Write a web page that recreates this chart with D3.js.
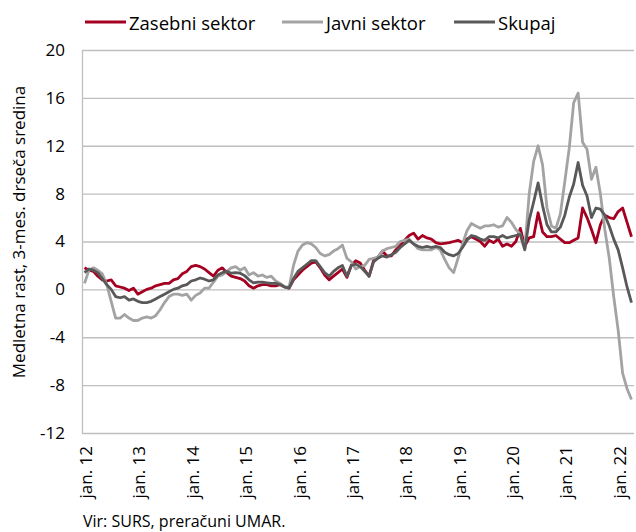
<!DOCTYPE html>
<html>
<head>
<meta charset="utf-8">
<script src="https://cdn.jsdelivr.net/npm/d3@7"></script>
<style>
  body { margin: 0; background: #fff; }
  text { font-family: "Open Sans", "Noto Sans", sans-serif; fill: #000; }
</style>
</head>
<body>
<div id="chart"></div>
<script>
// monthly categories jan 2012 .. apr 2022
const months = d3.timeMonth.range(new Date(2012, 0, 1), new Date(2022, 4, 1));

const seriesNames = ["Zasebni sektor", "Javni sektor", "Skupaj"];

const zasebni = [
  1.8, 1.6, 1.5, 1.1, 0.8, 0.7, 0.8, 0.3, 0.2, 0.1, -0.1, 0.1,
  -0.4, -0.2, 0.0, 0.1, 0.3, 0.4, 0.5, 0.5, 0.8, 0.9, 1.3, 1.5,
  1.9, 2.0, 1.9, 1.7, 1.4, 1.1, 1.6, 1.8, 1.4, 1.1, 1.0, 0.9,
  0.7, 0.3, 0.1, 0.3, 0.4, 0.4, 0.3, 0.3, 0.4, 0.2, 0.1, 0.8,
  1.2, 1.6, 1.9, 2.2, 2.3, 1.8, 1.2, 0.8, 1.1, 1.4, 1.7, 1.0,
  2.0, 2.4, 2.2, 1.6, 1.1, 2.4, 2.7, 3.2, 2.8, 2.8, 3.3, 3.7,
  4.1, 4.5, 4.7, 4.2, 4.5, 4.3, 4.2, 3.9, 3.8, 3.85, 3.9, 4.0,
  4.1, 3.9, 4.2, 4.4, 4.2, 4.0, 3.6, 4.1, 3.9, 4.2, 3.6, 3.8,
  3.6, 4.0, 5.1, 3.6, 4.3, 4.4, 6.4, 4.8, 4.4, 4.4, 4.5, 4.2,
  3.9, 3.9, 4.1, 4.3, 6.8, 6.0, 5.0, 3.9, 5.4, 6.2, 6.0, 5.9,
  6.5, 6.8, 5.6, 4.4
];

const javni = [
  0.5, 1.6, 1.8, 1.6, 1.3, 0.4, -1.0, -2.4, -2.4, -2.1, -2.4, -2.6,
  -2.6, -2.4, -2.3, -2.4, -2.2, -1.7, -1.1, -0.6, -0.4, -0.4, -0.5, -0.4,
  -0.9, -0.5, -0.3, 0.1, 0.1, 0.6, 1.1, 1.2, 1.5, 1.8, 1.9, 1.6,
  1.8, 1.2, 1.4, 1.1, 1.2, 1.0, 1.1, 0.7, 0.5, 0.2, 0.2, 2.0,
  3.2, 3.7, 3.9, 3.8, 3.5, 3.0, 2.8, 2.9, 3.2, 3.4, 3.7, 2.6,
  2.3, 1.7, 1.9, 2.0, 2.5, 2.6, 2.7, 3.2, 3.4, 3.5, 3.6, 4.0,
  4.1, 4.2, 3.8, 3.4, 3.3, 3.3, 3.3, 3.5, 3.3, 2.5, 1.8, 1.4,
  2.6, 3.8, 4.9, 5.5, 5.3, 5.1, 5.3, 5.3, 5.4, 5.2, 5.3, 6.0,
  5.6, 5.0, 4.6, 3.4, 8.0, 10.7, 12.0, 10.4, 6.8, 5.3, 5.1, 6.3,
  9.0, 11.8, 15.6, 16.4, 12.3, 11.7, 9.2, 10.2, 8.0, 5.0, 2.6, -0.6,
  -3.4, -7.0, -8.3, -9.2
];

const skupaj = [
  1.4, 1.7, 1.6, 1.4, 0.9, 0.4, 0.0, -0.6, -0.7, -0.6, -0.9, -0.8,
  -1.0, -1.1, -1.1, -1.0, -0.8, -0.6, -0.4, -0.2, 0.0, 0.1, 0.3, 0.4,
  0.7, 0.8, 0.95, 0.85, 0.7, 0.8, 1.2, 1.4, 1.5, 1.35, 1.4, 1.35,
  1.15, 0.8, 0.55, 0.6, 0.6, 0.55, 0.5, 0.5, 0.4, 0.2, 0.1, 0.9,
  1.5, 1.8, 2.1, 2.4, 2.4, 1.9, 1.4, 1.1, 1.5, 1.8, 2.0, 1.1,
  2.0, 2.1, 1.9, 1.5, 1.1, 2.3, 2.6, 2.8, 2.7, 2.9, 3.1, 3.5,
  3.8, 4.1, 3.8, 3.6, 3.5, 3.6, 3.5, 3.6, 3.5, 3.1, 2.9, 2.8,
  3.0, 3.5, 4.1, 4.5, 4.4, 4.2, 4.1, 4.4, 4.4, 4.3, 4.5, 4.3,
  4.4, 4.5, 4.6, 3.3, 5.8, 7.3, 8.9, 7.0, 5.4, 4.8, 4.8, 5.2,
  6.2, 7.7, 8.8, 10.6, 8.7, 7.8, 6.0, 6.8, 6.7, 6.2, 5.3, 4.2,
  3.3, 1.8, 0.2, -1.1
];

const yTicks = [-12, -8, -4, 0, 4, 8, 12, 16, 20];
const xTickLabels = ["jan. 12", "jan. 13", "jan. 14", "jan. 15", "jan. 16", "jan. 17",
                     "jan. 18", "jan. 19", "jan. 20", "jan. 21", "jan. 22"];
const colors = ["#a50021", "#a3a3a3", "#595959"];

const W = 636, H = 532;
const plotLeft = 82, plotRight = 634, plotTop = 50, plotBottom = 433;

const svg = d3.select("#chart").append("svg")
    .attr("width", W)
    .attr("height", H);

const x = d3.scalePoint().domain(months).range([84.5, 631.5]);
const y = d3.scaleLinear().domain([-12, 20]).range([plotBottom, plotTop]);

// y axis + gridlines
const yAxis = svg.append("g")
    .attr("transform", `translate(${plotLeft},0)`)
    .call(d3.axisLeft(y).tickValues(yTicks).tickSize(-(plotRight - plotLeft)).tickSizeOuter(0)
        .tickPadding(17).tickFormat(d => String(d)));
yAxis.selectAll("line").attr("stroke", "#bfbfbf").attr("stroke-width", 1.3);
yAxis.select(".domain").attr("stroke", "#bfbfbf").attr("stroke-width", 1.3);
yAxis.selectAll("text").style("font-size", "17px").attr("fill", "#000");

// x axis labels (january of each year)
const janMonths = months.filter(d => d.getMonth() === 0);
const xAxis = svg.append("g")
    .attr("transform", `translate(0,${plotBottom})`)
    .call(d3.axisBottom(x).tickValues(janMonths).tickSize(0).tickFormat((d, i) => xTickLabels[i]));
xAxis.select(".domain").remove();
xAxis.selectAll("text")
    .attr("transform", "rotate(-90)")
    .attr("x", -13)
    .attr("y", 1)
    .attr("dy", "0.36em")
    .style("text-anchor", "end")
    .style("font-size", "17px")
    .attr("fill", "#000");

// lines
const line = d3.line()
    .x((d, i) => x(months[i]))
    .y(d => y(d));

[zasebni, javni, skupaj].forEach((s, k) => {
  svg.append("path")
      .datum(s)
      .attr("fill", "none")
      .attr("stroke", colors[k])
      .attr("stroke-width", 2.8)
      .attr("stroke-linejoin", "round")
      .attr("d", line);
});

// y title
svg.append("text")
    .attr("transform", "translate(18,232) rotate(-90)")
    .attr("text-anchor", "middle")
    .attr("dominant-baseline", "central")
    .style("font-size", "17px")
    .text("Medletna rast, 3-mes. drseča sredina");

// legend
const legendX = [85, 282, 454];
const legend = svg.append("g");
seriesNames.forEach((name, k) => {
  legend.append("line")
      .attr("x1", legendX[k]).attr("x2", legendX[k] + 41)
      .attr("y1", 22).attr("y2", 22)
      .attr("stroke", colors[k]).attr("stroke-width", 2.8);
  legend.append("text")
      .attr("x", legendX[k] + 44)
      .attr("y", 22)
      .attr("dominant-baseline", "central")
      .style("font-size", "18.5px")
      .text(name);
});

// source
svg.append("text")
    .attr("x", 83)
    .attr("y", 527)
    .style("font-size", "16px")
    .text("Vir: SURS, preračuni UMAR.");
</script>
</body>
</html>
